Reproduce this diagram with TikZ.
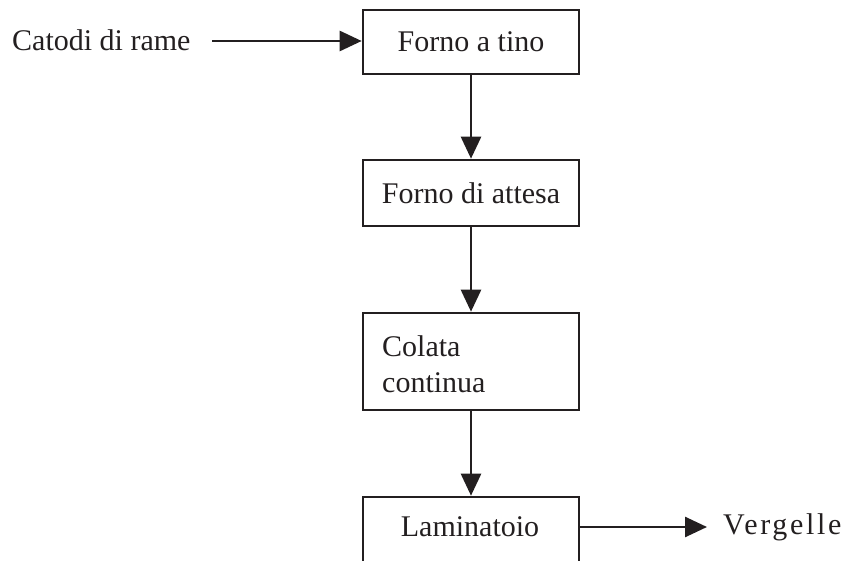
\documentclass[tikz,border=0pt]{standalone}
\usepackage{fontspec}
\setmainfont{Liberation Serif}
\newfontfamily\spacedserif[LetterSpace=9]{Liberation Serif}
\usetikzlibrary{arrows.meta}
\definecolor{ink}{HTML}{231F20}
\begin{document}
\begin{tikzpicture}[x=1pt,y=-1pt,
  every node/.style={text=ink,font=\fontsize{30}{36}\selectfont},
  procbox/.style={draw=ink,line width=2.6pt,minimum width=216pt,inner sep=0pt},
  lbl/.style={inner sep=0pt},
  flow/.style={draw=ink,line width=2.6pt,-{Triangle[length=22pt,width=20pt]}}]
\useasboundingbox (0,0) rectangle (859,561);
\clip (0,0) rectangle (859,561);
\node[procbox,minimum height=64pt] (b1) at (471,42) {Forno a tino};
\node[procbox,minimum height=66pt] (b2) at (471,193) {Forno di attesa};
\node[procbox,minimum height=97pt] (b3) at (471,361.5) {};
\node[lbl,anchor=west,align=left] (t3) at (382,364) {Colata\\continua};
\node[procbox,minimum height=130pt] (b4) at (471,562) {};
\node[lbl] (t4) at (470,527) {Laminatoio};
\node[lbl,anchor=west] (cat) at (12,40) {Catodi di rame};
\node[lbl,anchor=west,font=\spacedserif\fontsize{30}{36}\selectfont] (ver) at (723,527) {Vergelle};
\coordinate (cs) at (212,41);
\coordinate (ve) at (707,527);
\draw[flow] (cs) -- (cs -| b1.west);
\draw[flow] (b1) -- (b2);
\draw[flow] (b2) -- (b3);
\draw[flow] (b3) -- (b4.north);
\draw[flow] (b4.east |- t4) -- (ve);
\end{tikzpicture}
\end{document}
